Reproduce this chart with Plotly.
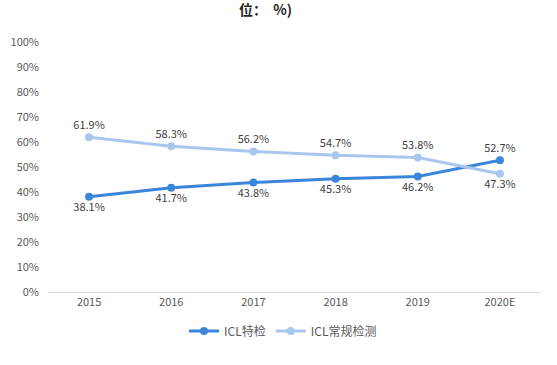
import plotly.graph_objects as go

years = ["2015", "2016", "2017", "2018", "2019", "2020E"]
special = [38.1, 41.7, 43.8, 45.3, 46.2, 52.7]
routine = [61.9, 58.3, 56.2, 54.7, 53.8, 47.3]
y_ticks = [0, 10, 20, 30, 40, 50, 60, 70, 80, 90, 100]
y_tick_labels = [f"{v}%" for v in y_ticks]

font_family = "Microsoft YaHei, Noto Sans CJK SC, sans-serif"

special_pos = ["bottom center"] * 5 + ["top center"]
routine_pos = ["top center"] * 5 + ["bottom center"]

fig = go.Figure()
fig.add_trace(go.Scatter(
    x=years, y=special, name="ICL特检", mode="lines+markers+text",
    line=dict(color="#3b86da", width=3), marker=dict(size=8, color="#3b86da"),
    text=[f"{v}%" for v in special], textposition=special_pos,
    textfont=dict(size=11, color="#404040", family=font_family),
))
fig.add_trace(go.Scatter(
    x=years, y=routine, name="ICL常规检测", mode="lines+markers+text",
    line=dict(color="#a9c7ec", width=3), marker=dict(size=8, color="#a9c7ec"),
    text=[f"{v}%" for v in routine], textposition=routine_pos,
    textfont=dict(size=11, color="#404040", family=font_family),
))

fig.add_annotation(
    text="<b>位：  %)</b>", xref="paper", yref="paper", x=(265 - 48) / 493, y=1 + (42 - 9) / 250,
    xanchor="center", yanchor="middle", showarrow=False,
    font=dict(size=14, color="#262626", family=font_family),
)

fig.update_layout(
    width=557, height=365,
    margin=dict(l=48, r=16, t=42, b=73, autoexpand=False),
    paper_bgcolor="white", plot_bgcolor="white",
    font=dict(family=font_family, size=11, color="#595959"),
    showlegend=True,
    legend=dict(orientation="h", x=(283 - 48) / 493, xanchor="center", y=-0.156, yanchor="middle",
                font=dict(size=12, color="#595959"), itemwidth=30),
)
fig.update_xaxes(
    type="category", range=[-0.5, len(years) - 0.5], showgrid=False, showline=True,
    linecolor="#d9d9d9", linewidth=1, ticks="", tickfont=dict(size=11, color="#595959"),
)
fig.update_yaxes(
    range=[0, 100], tickvals=y_ticks, ticktext=y_tick_labels, showgrid=False, zeroline=False,
    showline=False, tickfont=dict(size=11, color="#595959"), ticklabelstandoff=8,
)

fig.write_html("out.html", config={"displayModeBar": False},
               post_script="document.body.style.margin='0';")
